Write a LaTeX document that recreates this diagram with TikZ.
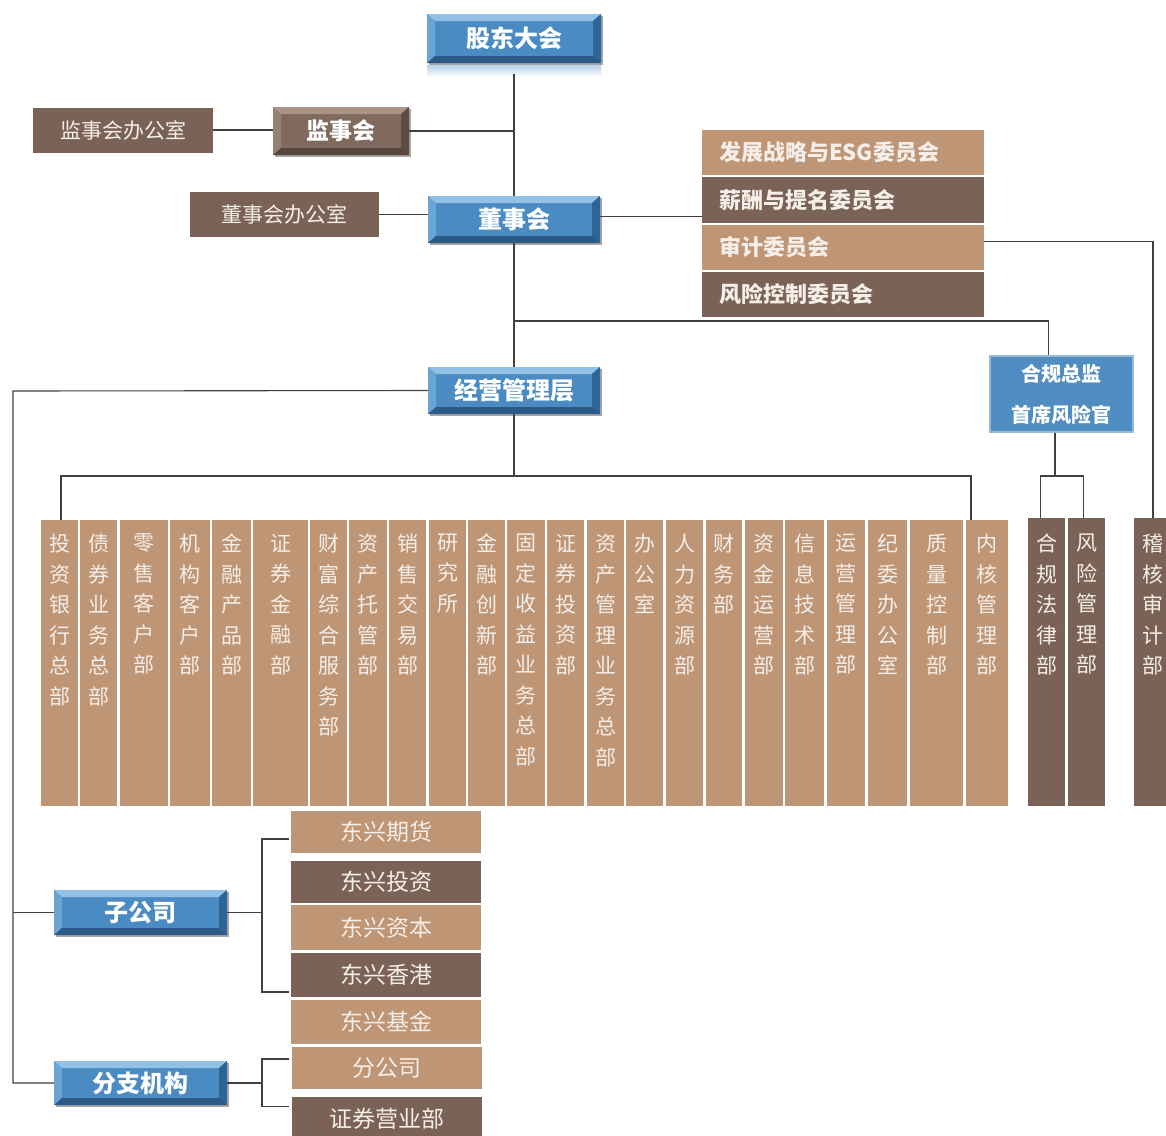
\documentclass[tikz,border=0pt]{standalone}
\usepackage{fontspec}
\setmainfont{Noto Sans CJK SC}
\usetikzlibrary{shadows,calc}
\definecolor{tanc}{HTML}{BE9575}
\definecolor{dbrown}{HTML}{7A6356}
\definecolor{bbase}{HTML}{4A8BC3}
\definecolor{btop}{HTML}{93C1E6}
\definecolor{bleft}{HTML}{6AA5D6}
\definecolor{bright}{HTML}{2C6597}
\definecolor{bbot}{HTML}{2A5A85}
\definecolor{rbase}{HTML}{806A5D}
\definecolor{rtop}{HTML}{AA9486}
\definecolor{rleft}{HTML}{958275}
\definecolor{rright}{HTML}{5E4C42}
\definecolor{rbot}{HTML}{56463C}
\definecolor{ltext}{HTML}{F6EEE8}
\definecolor{lnc}{HTML}{404040}
\definecolor{hgblue}{HTML}{4F8DC2}
\newcommand\mybevel[4]{%
 \def\pb{path picture bounding box}%
 \fill[#1] (\pb.north west) -- (\pb.north east) -- ([shift={(-8pt,-7pt)}]\pb.north east) -- ([shift={(8pt,-7pt)}]\pb.north west) -- cycle;
 \fill[#2] (\pb.north west) -- ([shift={(8pt,-7pt)}]\pb.north west) -- ([shift={(8pt,7pt)}]\pb.south west) -- (\pb.south west) -- cycle;
 \fill[#3] (\pb.north east) -- ([shift={(-8pt,-7pt)}]\pb.north east) -- ([shift={(-8pt,7pt)}]\pb.south east) -- (\pb.south east) -- cycle;
 \fill[#4] (\pb.south west) -- ([shift={(8pt,7pt)}]\pb.south west) -- ([shift={(-8pt,7pt)}]\pb.south east) -- (\pb.south east) -- cycle;
}
\def\vs#1{\ifx\relax#1\else\hbox{#1}\expandafter\vs\fi}
\begin{document}
\begin{tikzpicture}[x=1pt,y=-1pt,
  box/.style={rectangle, inner sep=0pt, text=ltext},
  bluebox/.style={box, fill=bbase, text=white, font=\fontsize{24}{24}\selectfont\bfseries,
    drop shadow={shadow xshift=1.5pt, shadow yshift=-2pt, fill=black, opacity=0.35},
    path picture={\mybevel{btop}{bleft}{bright}{bbot}}},
  brownbevel/.style={box, fill=rbase, text=white, font=\fontsize{23}{23}\selectfont\bfseries,
    drop shadow={shadow xshift=1.5pt, shadow yshift=-2pt, fill=black, opacity=0.35},
    path picture={\mybevel{rtop}{rleft}{rright}{rbot}}},
  office/.style={box, fill=dbrown, font=\fontsize{21}{21}\selectfont},
  comm/.style={box, minimum width=282pt, text width=248pt, inner xsep=17pt, align=left,
    font=\fontsize{22}{22}\selectfont\bfseries, text=ltext},
  sub/.style={box, minimum width=190pt, font=\fontsize{23}{23}\selectfont},
  col/.style={box, minimum height=286pt},
  lab/.style={anchor=north, inner sep=0pt, yshift=-14pt, text=ltext, font=\fontsize{21}{21}\selectfont},
  conn/.style={draw=lnc, line width=1.1pt}
]
\useasboundingbox (0,0) rectangle (1166,1135);

% top level
\shade[top color=bbase!40, bottom color=white] (427,65) rectangle (601,77);
\node[bluebox, minimum width=174pt, minimum height=49pt] (gd) at (514,38.5) {股东大会};
\node[office, minimum width=180pt, minimum height=45pt] (jsho) at (123,130) {监事会办公室};
\node[brownbevel, minimum width=136pt, minimum height=48pt] (jsh) at (341,131) {监事会};
\node[office, minimum width=189pt, minimum height=45pt] (dsho) at (284.5,214.5) {董事会办公室};
\node[bluebox, minimum width=172pt, minimum height=47pt] (dsh) at (514,219.5) {董事会};

% committees
\node[comm, fill=tanc, minimum height=45pt] (c1) at (843,152.5) {发展战略与ESG委员会};
\node[comm, fill=dbrown, minimum height=46pt] (c2) at (843,200) {薪酬与提名委员会};
\node[comm, fill=tanc, minimum height=45pt] (c3) at (843,247.5) {审计委员会};
\node[comm, fill=dbrown, minimum height=45pt] (c4) at (843,294.5) {风险控制委员会};

% compliance
\node[box, fill=hgblue, draw=hgblue!60!white, line width=2pt, minimum width=143pt, minimum height=76pt,
  align=center, text=white, font=\fontsize{20}{41}\selectfont\bfseries] (hg) at (1061.5,394) {合规总监\\首席风险官};

% management
\node[bluebox, minimum width=172pt, minimum height=47pt] (mg) at (514,390.5) {经营管理层};

% departments
\foreach \xa/\xb/\t [count=\i] in {41/78/投资银行总部, 80/117/债券业务总部, 120/168/零售客户部,
  170/210/机构客户部, 212/251/金融产品部, 253/308/证券金融部, 310/347/财富综合服务部,
  349/387/资产托管部, 389/426/销售交易部, 429/466/研究所, 468/505/金融创新部,
  507/545/固定收益业务总部, 547/584/证券投资部, 587/624/资产管理业务总部, 626/663/办公室,
  666/703/人力资源部, 706/742/财务部, 745/783/资金运营部, 785/824/信息技术部,
  827/865/运营管理部, 868/907/纪委办公室, 910/963/质量控制部, 966/1008/内核管理部}
{
  \node[col, fill=tanc, minimum width={\xb-\xa}, label={[lab]north:{\vbox{\baselineskip=30.5pt\expandafter\vs\t\relax}}}]
    (d\i) at ({(\xa+\xb)/2},663) {};
}
\foreach \xa/\xb/\t/\nm in {1028/1065/合规法律部/hgf, 1068/1105/风险管理部/fxg, 1134/1172/稽核审计部/jhs}
{
  \node[col, fill=dbrown, minimum height=288pt, minimum width={\xb-\xa}, label={[lab, yshift=-2pt]north:{\vbox{\baselineskip=30.5pt\expandafter\vs\t\relax}}}]
    (\nm) at ({(\xa+\xb)/2},662) {};
}

% subsidiaries and branches
\node[bluebox, minimum width=173pt, minimum height=45pt] (zgs) at (140.5,912.5) {子公司};
\node[bluebox, minimum width=173pt, minimum height=44pt] (fz) at (140.5,1083) {分支机构};
\node[sub, fill=tanc, minimum height=42pt] (s1) at (386,832) {东兴期货};
\node[sub, fill=dbrown, minimum height=42pt] (s2) at (386,882) {东兴投资};
\node[sub, fill=tanc, minimum height=45pt] (s3) at (386,927.5) {东兴资本};
\node[sub, fill=dbrown, minimum height=44pt] (s4) at (386,975) {东兴香港};
\node[sub, fill=tanc, minimum height=44pt] (s5) at (386,1022) {东兴基金};
\node[sub, fill=tanc, minimum height=42pt] (s6) at (386.5,1068) {分公司};
\node[sub, fill=dbrown, minimum height=43pt] (s7) at (386.5,1118.5) {证券营业部};

% connectors
\draw[conn] ([yshift=-11pt]gd.south) -- (dsh.north);
\draw[conn] (jsho.east) -- (jsho.east -| jsh.west);
\draw[conn] (jsh.east) -- (jsh.east -| gd.south);
\draw[conn] (dsho.east) -- (dsho.east -| dsh.west);
\draw[conn] ([yshift=3pt]dsh.east) -- ([yshift=3pt]dsh.east -| c2.west);
\draw[conn] ([yshift=6pt]c3.east) -| (jhs.north);
\draw[conn] (dsh.south) -- (mg.north);
\coordinate (br) at (514,321);
\draw[conn] (br) -| ([xshift=-13pt]hg.north);
\coordinate (lft) at (13,391);
\draw[conn] (mg.west) -- (lft) |- (fz.west);
\draw[conn] (lft |- zgs.west) -- (zgs.west);
\coordinate (hb) at (514,476);
\draw[conn] (mg.south) -- (hb);
\draw[conn] ([xshift=1.5pt]d1.north) |- (hb) -| ([xshift=-16pt]d23.north);
\coordinate (hq) at (1055,476);
\draw[conn] ([xshift=-6.5pt]hg.south) -- (hq);
\draw[conn] ([xshift=-6pt]hgf.north) |- (hq) -| ([xshift=-3pt]fxg.north);
\coordinate (zb) at (262,912.5);
\draw[conn] (zgs.east) -- (zb);
\draw[conn] ($(s1.west)+(-2,7)$) -| (zb) |- ($(s4.west)+(-2,17)$);
\coordinate (fb) at (262,1083);
\draw[conn] (fz.east) -- (fb);
\draw[conn] ($(s6.west)+(-2,-9)$) -| (fb) |- ($(s7.west)+(-2,-12)$);
\end{tikzpicture}
\end{document}
